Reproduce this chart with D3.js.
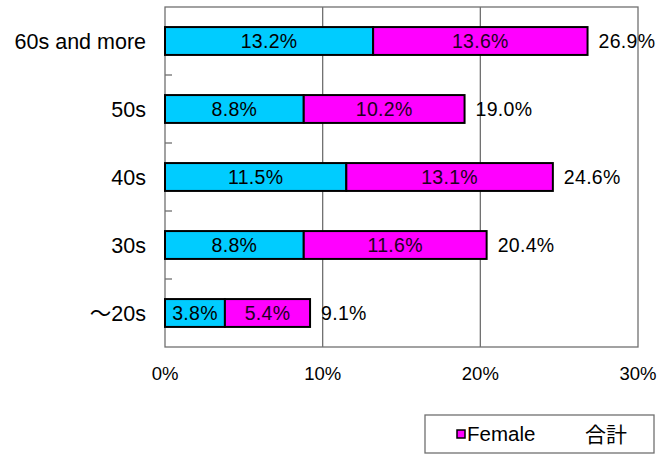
<!DOCTYPE html>
<html>
<head>
<meta charset="utf-8">
<script src="https://cdn.jsdelivr.net/npm/d3@7"></script>
<style>
  body { margin: 0; background: #fff; }
  text { font-family: "Liberation Sans", Arial, "Noto Sans CJK JP", sans-serif; }
</style>
</head>
<body>
<div id="chart"></div>
<script>
const categories = ['60s and more', '50s', '40s', '30s', '～20s'];
const male = [13.2, 8.8, 11.5, 8.8, 3.8];
const female = [13.6, 10.2, 13.1, 11.6, 5.4];
const total = [26.9, 19.0, 24.6, 20.4, 9.1];
const xTicks = [0, 10, 20, 30];

const width = 662;
const height = 454;

const svg = d3.select('#chart').append('svg')
  .attr('width', width)
  .attr('height', height);

const x = d3.scaleLinear().domain([0, 30]).range([165, 638]);
const y = d3.scaleBand().domain(categories).range([7, 347])
  .paddingInner(0.59).paddingOuter(0.295);

// grid lines
svg.append('g')
  .selectAll('line')
  .data(xTicks.slice(1, -1))
  .join('line')
  .attr('x1', (d) => x(d)).attr('x2', (d) => x(d))
  .attr('y1', 7).attr('y2', 347)
  .attr('stroke', '#707070')
  .attr('stroke-width', 1.3);

// plot frame
svg.append('rect')
  .attr('x', x(0)).attr('y', 7)
  .attr('width', x(30) - x(0)).attr('height', 340)
  .attr('fill', 'none')
  .attr('stroke', '#707070')
  .attr('stroke-width', 1.3);

// tick marks between categories
const step = y.step();
svg.append('g')
  .selectAll('line')
  .data(categories.slice(0, -1))
  .join('line')
  .attr('x1', x(0)).attr('x2', x(0) + 7)
  .attr('y1', (d) => y(d) + y.bandwidth() / 2 + step / 2)
  .attr('y2', (d) => y(d) + y.bandwidth() / 2 + step / 2)
  .attr('stroke', '#707070')
  .attr('stroke-width', 1.3);

const rows = categories.map((c, i) => ({ cat: c, male: male[i], female: female[i], total: total[i] }));

const row = svg.append('g').selectAll('g').data(rows).join('g');

row.append('rect')
  .attr('x', x(0))
  .attr('y', (d) => y(d.cat))
  .attr('width', (d) => x(d.male) - x(0))
  .attr('height', y.bandwidth())
  .attr('fill', '#00ccff')
  .attr('stroke', '#000')
  .attr('stroke-width', 2);

row.append('rect')
  .attr('x', (d) => x(d.male))
  .attr('y', (d) => y(d.cat))
  .attr('width', (d) => x(d.male + d.female) - x(d.male))
  .attr('height', y.bandwidth())
  .attr('fill', '#ff00ff')
  .attr('stroke', '#000')
  .attr('stroke-width', 2);

const mid = (d) => y(d.cat) + y.bandwidth() / 2;

row.append('text')
  .attr('x', (d) => (x(0) + x(d.male)) / 2)
  .attr('y', mid)
  .attr('dy', '0.37em')
  .attr('text-anchor', 'middle')
  .attr('font-size', 19.5)
  .attr('letter-spacing', 0.3)
  .text((d) => d.male.toFixed(1) + '%');

row.append('text')
  .attr('x', (d) => (x(d.male) + x(d.male + d.female)) / 2)
  .attr('y', mid)
  .attr('dy', '0.37em')
  .attr('text-anchor', 'middle')
  .attr('font-size', 19.5)
  .attr('letter-spacing', 0.3)
  .attr('fill', '#200020')
  .text((d) => d.female.toFixed(1) + '%');

row.append('text')
  .attr('x', (d) => x(d.male + d.female) + 11)
  .attr('y', mid)
  .attr('dy', '0.37em')
  .attr('font-size', 19.5)
  .attr('letter-spacing', 0.3)
  .text((d) => d.total.toFixed(1) + '%');

// category labels
svg.append('g')
  .selectAll('text')
  .data(categories)
  .join('text')
  .attr('x', 146)
  .attr('y', (d) => y(d) + y.bandwidth() / 2)
  .attr('dy', '0.37em')
  .attr('text-anchor', 'end')
  .attr('font-size', 21.5)
  .text((d) => d);

// x tick labels
svg.append('g')
  .selectAll('text')
  .data(xTicks)
  .join('text')
  .attr('x', (d) => x(d))
  .attr('y', 380)
  .attr('text-anchor', 'middle')
  .attr('font-size', 18.5)
  .text((d) => d + '%');

// legend
const legend = svg.append('g');
legend.append('rect')
  .attr('x', 425).attr('y', 415)
  .attr('width', 229).attr('height', 38)
  .attr('fill', '#fff')
  .attr('stroke', '#707070')
  .attr('stroke-width', 1.3);
legend.append('rect')
  .attr('x', 457).attr('y', 430)
  .attr('width', 8).attr('height', 8)
  .attr('fill', '#ff00ff')
  .attr('stroke', '#000')
  .attr('stroke-width', 1.5);
legend.append('text')
  .attr('x', 467).attr('y', 441)
  .attr('font-size', 20.5)
  .text('Female');
legend.append('text')
  .attr('x', 585).attr('y', 442)
  .attr('font-size', 21)
  .attr('font-family', '"Noto Sans CJK JP", sans-serif')
  .text('合計');
</script>
</body>
</html>
